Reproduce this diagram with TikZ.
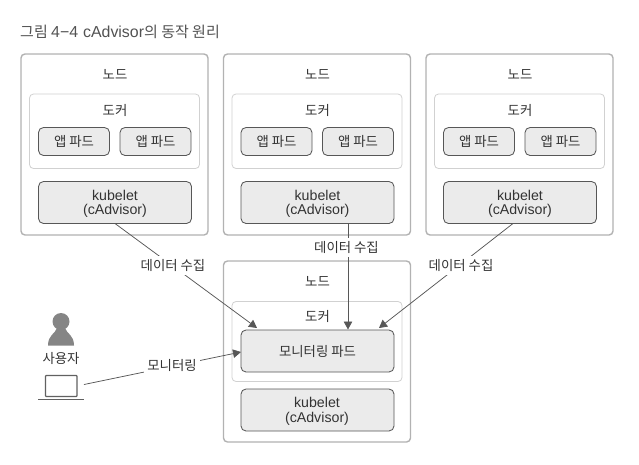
\documentclass[tikz,border=0pt]{standalone}
\usepackage{fontspec}
\setmainfont{Noto Sans CJK KR}
\newfontfamily\latinf[Scale=1.06]{Liberation Sans}
\usetikzlibrary{arrows.meta,positioning}
\definecolor{ink}{gray}{0.2}
\definecolor{edgeg}{gray}{0.70}
\definecolor{softg}{gray}{0.82}
\definecolor{padg}{gray}{0.92}
\definecolor{boxg}{gray}{0.34}
\tikzset{
  boxat/.style args={#1/#2}{minimum width=#1pt,minimum height=#2pt,inner sep=0pt,outer sep=0pt,anchor=north west},
  nodebox/.style={draw=edgeg,line width=1.4pt,rounded corners=4pt,fill=white},
  dockerbox/.style={draw=softg,line width=0.8pt,rounded corners=4pt,fill=white},
  podbox/.style={draw=boxg,line width=0.85pt,rounded corners=5pt,fill=padg},
  lbl/.style={text=ink,font=\fontsize{13.4}{15}\selectfont,inner sep=0pt},
  cut/.style={lbl,fill=white,inner xsep=3pt,inner ysep=3pt},
  conn/.style={draw=boxg,line width=0.75pt,-{Triangle[length=8pt,width=8.5pt]}}
}
\newcommand{\klabel}{{\latinf kubelet}\\[-0.5pt]{\latinf (cAdvisor)}}
\begin{document}
\begin{tikzpicture}[x=1pt,y=-1pt]
\useasboundingbox (0,0) rectangle (639,464);
\node[lbl,anchor=west,text=ink!85!white,font=\fontsize{15}{17}\selectfont] (title) at (20,32) {그림 {\latinf 4−4}\hspace{5pt}{\latinf cAdvisor}의 동작 원리};

% upper nodes
\foreach \n/\dx in {a/0,b/202.5,c/405}{
  \begin{scope}[xshift=\dx pt]
    \node[nodebox,boxat=187/181] (node\n) at (21,54) {};
    \node[lbl] (nodet\n) at (115,74) {노드};
    \node[dockerbox,boxat=170/74.5] (dock\n) at (29.5,94) {};
    \node[lbl] (dockt\n) at (115,110.5) {도커};
    \node[podbox,boxat=71/28] (podl\n) at (38.5,127.5) {};
    \node[lbl] (podlt\n) at (74,141) {앱 파드};
    \node[podbox,boxat=71/28] (podr\n) at (120,127.5) {};
    \node[lbl] (podrt\n) at (155.5,141) {앱 파드};
    \node[podbox,boxat=153/42] (kube\n) at (38.5,181.5) {};
    \node[lbl,align=center] (kubet\n) at (115,204) {\klabel};
  \end{scope}
}

% lower node
\node[nodebox,boxat=187/181] (noded) at (223.5,261) {};
\node[lbl] (nodetd) at (317.5,281) {노드};
\node[dockerbox,boxat=170/80] (dockd) at (232,301.5) {};
\node[lbl] (docktd) at (317.5,316) {도커};
\node[podbox,boxat=153/42] (mon) at (241,330) {};
\node[lbl] (mont) at (317.5,351) {모니터링 파드};
\node[podbox,boxat=153/42] (kubed) at (241,389) {};
\node[lbl,align=center] (kubetd) at (317,411.5) {\klabel};

% user
\fill[fill=black!48] (61,321.5) circle (8.5);
\fill[fill=black!48] (48,345.5) .. controls (48,335) and (55,334) .. (57,328) -- (65,328) .. controls (67,334) and (74,335) .. (74,345.5) -- cycle;
\node[lbl] (user) at (61,358) {사용자};
\draw[draw=black!62,line width=1.2pt,rounded corners=0.8pt,fill=white] (45.5,375.5) rectangle (77,396.5);
\draw[draw=black!62,line width=1.2pt] (38,399.5) -- (84,399.5);
\coordinate (laptop) at (84,384.5);

% connector ends
\coordinate (sa) at (115,223.5);
\coordinate (ta) at (257,328);
\coordinate (sb) at (348,223.5);
\coordinate (tb) at (348,329.5);
\coordinate (sc) at (513,223.5);
\coordinate (tc) at (379,328);
\coordinate (tm) at (241,352);

\draw[conn] (sa) -- (ta);
\draw[conn] (sb) -- (tb);
\draw[conn] (sc) -- (tc);
\draw[conn] (laptop) -- (tm);

\node[cut] (la) at (173,265.5) {데이터 수집};
\node[cut] (lb) at (346.5,247.5) {데이터 수집};
\node[cut] (lc) at (461,265.5) {데이터 수집};
\node[cut] (lm) at (172,365.5) {모니터링};
\end{tikzpicture}
\end{document}
